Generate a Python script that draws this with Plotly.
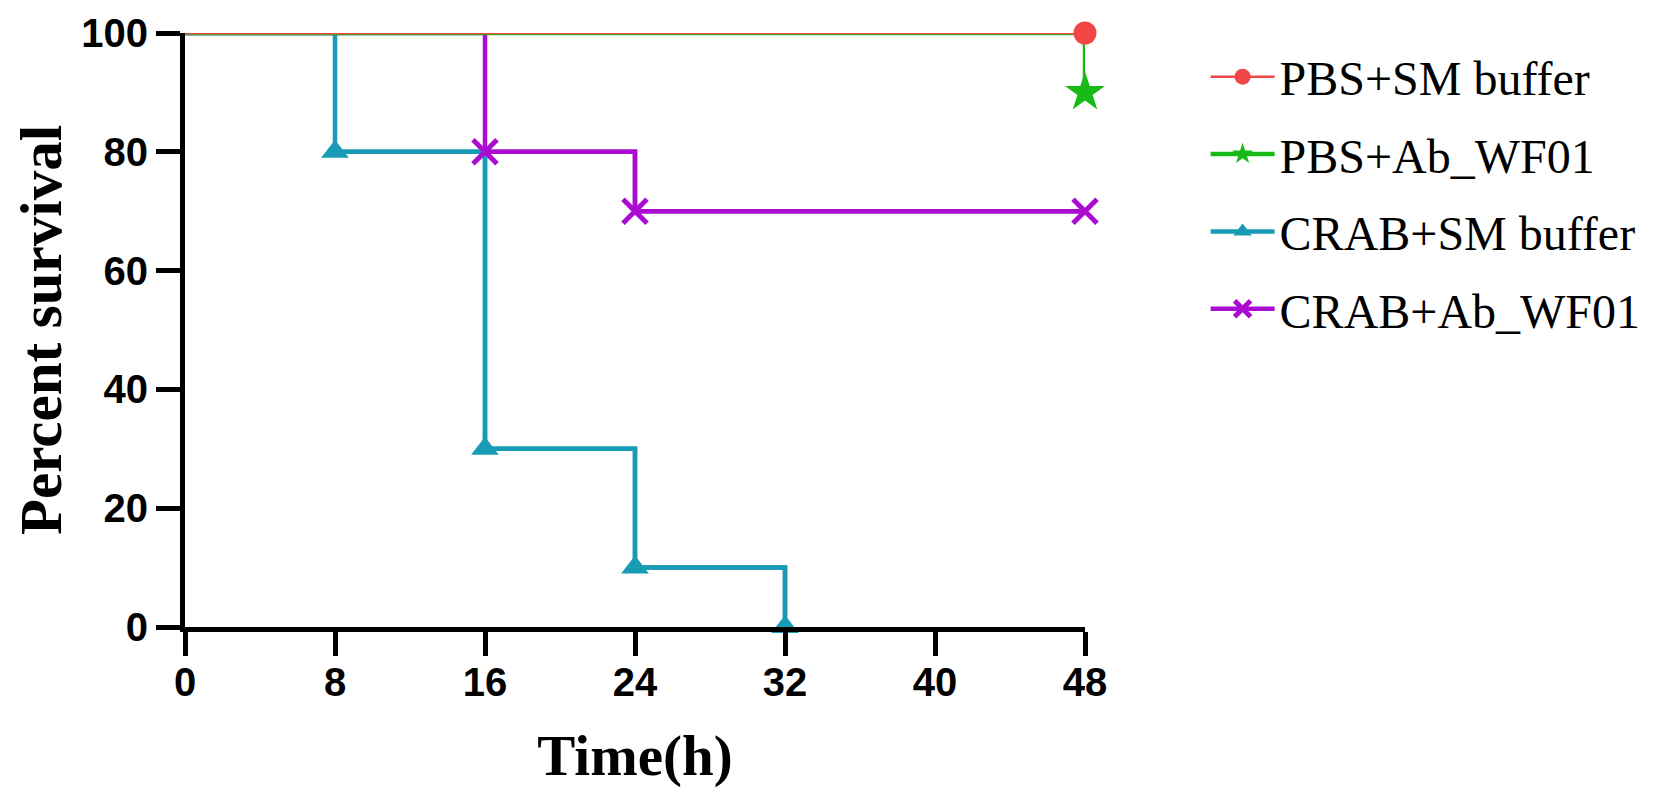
import plotly.graph_objects as go

# survival data (Kaplan-Meier steps), time in hours, percent survival
names = ["PBS+SM buffer", "PBS+Ab_WF01", "CRAB+SM buffer", "CRAB+Ab_WF01"]

pbs_sm_t = [0, 48]
pbs_sm_s = [100, 100]

pbs_ab_t = [0, 48, 48]
pbs_ab_s = [100, 100, 90]

crab_sm_t = [0, 8, 16, 24, 32]
crab_sm_s = [100, 80, 30, 10, 0]

crab_ab_t = [0, 16, 24, 48]
crab_ab_s = [100, 80, 70, 70]

x_ticks = [0, 8, 16, 24, 32, 40, 48]
y_ticks = [0, 20, 40, 60, 80, 100]

colors = ["#f24545", "#17ba17", "#1a9bb5", "#aa0cd2"]
symbols = ["circle", "star", "triangle-up", "x-thin"]
msizes = [23, 30, 24, 24]
lwidths = [2.5, 4.5, 4.5, 4.5]
series = [(pbs_sm_t, pbs_sm_s), (pbs_ab_t, pbs_ab_s),
          (crab_sm_t, crab_sm_s), (crab_ab_t, crab_ab_s)]

fig = go.Figure()
# draw order: cyan, purple, green, red (red on top)
for i in [2, 3, 1, 0]:
    t, s = series[i]
    # full step path, no markers
    fig.add_trace(go.Scatter(x=t, y=s, mode="lines", showlegend=False,
                             line=dict(color=colors[i], width=lwidths[i], shape="hv"),
                             hoverinfo="skip", legendgroup=names[i]))
    # event / censor points with markers (skip the start point)
    mk = dict(symbol=symbols[i], size=msizes[i], color=colors[i], opacity=1)
    if symbols[i] == "x-thin":
        mk["line"] = dict(color=colors[i], width=5)
    et, es = t[1:], s[1:]
    if i == 1:
        et, es = t[2:], s[2:]
    fig.add_trace(go.Scatter(x=et, y=es, name=names[i], mode="lines+markers",
                             line=dict(color=colors[i], width=lwidths[i], shape="hv"),
                             marker=mk, cliponaxis=False, legendrank=i + 1,
                             legendgroup=names[i]))

fig.update_layout(
    width=1667, height=797,
    paper_bgcolor="white", plot_bgcolor="white",
    margin=dict(l=177, r=590, t=25, b=178, autoexpand=False),
    showlegend=True,
    legend=dict(x=1.134, y=0.99, xanchor="left", yanchor="top",
                font=dict(family="Liberation Serif", size=48, color="black"),
                itemwidth=64, tracegroupgap=12, bgcolor="rgba(0,0,0,0)"),
)
fig.update_xaxes(range=[0, 48], tickvals=x_ticks, showgrid=False, zeroline=False,
                 showline=True, linecolor="black", linewidth=5, automargin=False,
                 ticks="outside", ticklen=24, tickwidth=5, tickcolor="black",
                 ticklabelstandoff=-8, ticklabeloverflow="allow",
                 tickfont=dict(family="Liberation Sans", size=40, color="black", weight="bold"),
                 title=dict(text="Time(h)", standoff=34,
                            font=dict(family="Liberation Serif", size=57, color="black", weight="bold")))
fig.update_yaxes(range=[0, 100], tickvals=y_ticks, showgrid=False, zeroline=False,
                 showline=True, linecolor="black", linewidth=5, automargin=False,
                 ticks="outside", ticklen=24, tickwidth=5, tickcolor="black",
                 ticklabeloverflow="allow",
                 tickfont=dict(family="Liberation Sans", size=40, color="black", weight="bold"),
                 title=dict(text="Percent survival", standoff=51,
                            font=dict(family="Liberation Serif", size=59, color="black", weight="bold")))

fig.write_html("out.html")
